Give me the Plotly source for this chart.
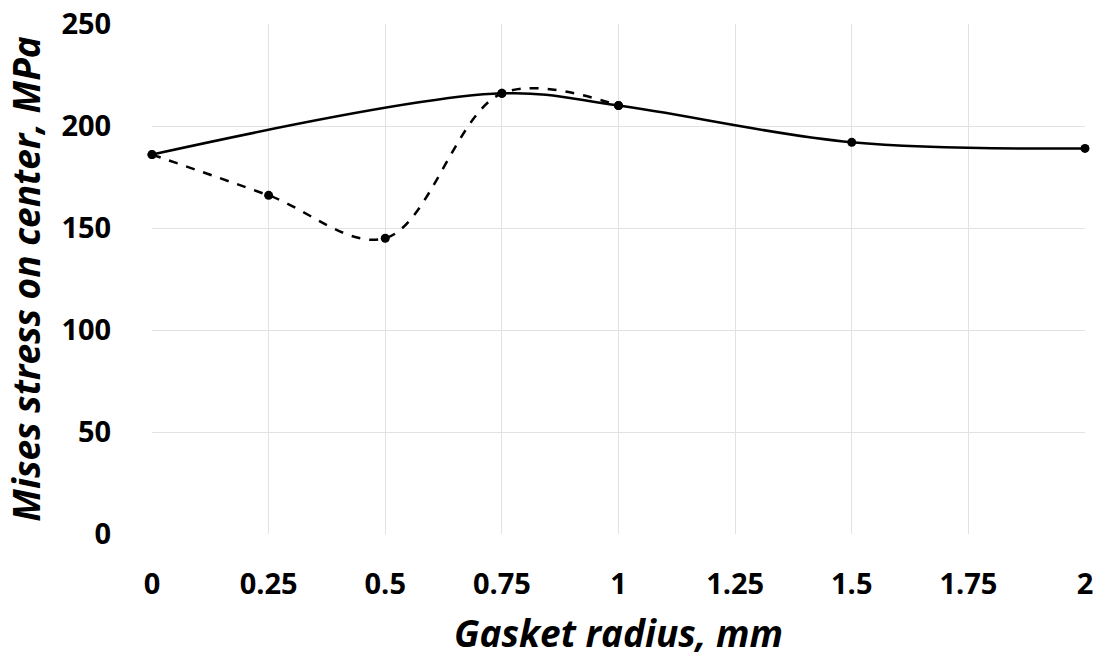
import plotly.graph_objects as go

solid_x = [0, 0.75, 1, 1.5, 2]
solid_y = [186, 216, 210, 192, 189]
dashed_x = [0, 0.25, 0.5, 0.75, 1]
dashed_y = [186, 166, 145, 216, 210]

x_ticks = [0, 0.25, 0.5, 0.75, 1, 1.25, 1.5, 1.75, 2]
x_tick_labels = ["0", "0.25", "0.5", "0.75", "1", "1.25", "1.5", "1.75", "2"]
y_ticks = [0, 50, 100, 150, 200, 250]

fig = go.Figure()
fig.add_trace(go.Scatter(
    x=dashed_x, y=dashed_y, mode="lines+markers",
    line=dict(color="black", width=2.5, dash="dash", shape="spline", smoothing=1),
    marker=dict(color="black", size=9), showlegend=False, cliponaxis=False))
fig.add_trace(go.Scatter(
    x=solid_x, y=solid_y, mode="lines+markers",
    line=dict(color="black", width=2.5, shape="spline", smoothing=1),
    marker=dict(color="black", size=9), showlegend=False, cliponaxis=False))

tick_font = dict(family="Open Sans", size=29, color="black", weight="bold")
title_font = dict(family="Open Sans", size=37, color="black", weight="bold", style="italic")

fig.update_layout(
    width=1097, height=659,
    margin=dict(l=152, r=12, t=24, b=125, autoexpand=False),
    plot_bgcolor="white", paper_bgcolor="white",
    xaxis=dict(range=[0, 2], tickvals=x_ticks, ticktext=x_tick_labels,
               showgrid=True, gridcolor="#e2e2e2", gridwidth=1,
               zeroline=False, showline=False, ticks="outside", ticklen=24,
               tickcolor="rgba(255,255,255,0)", automargin=False,
               tickfont=tick_font,
               title=dict(text="Gasket radius, mm", font=title_font, standoff=20)),
    yaxis=dict(range=[0, 250], tickvals=y_ticks,
               showgrid=True, gridcolor="#e2e2e2", gridwidth=1,
               zeroline=False, showline=False, ticks="outside", ticklen=34,
               tickcolor="rgba(255,255,255,0)", automargin=False,
               tickfont=tick_font,
               title=dict(text="Mises stress on center, MPa", font=title_font, standoff=10)),
)

fig.write_html("out.html")
